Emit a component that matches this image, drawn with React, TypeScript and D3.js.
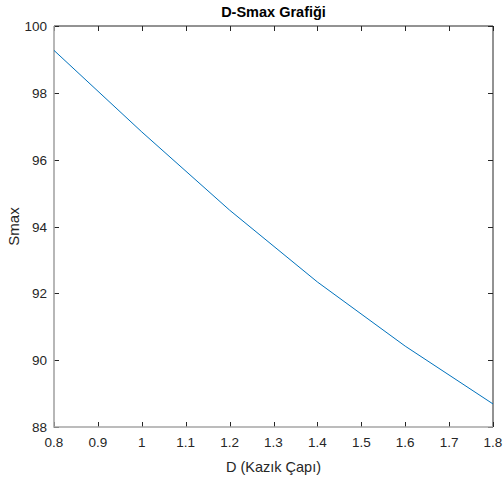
import { useRef, useEffect } from 'react';
import * as d3 from 'd3';

const diameters = [0.8, 1.0, 1.2, 1.4, 1.6, 1.8];
const smaxValues = [99.27, 96.83, 94.49, 92.34, 90.42, 88.69];
const xTicks = [0.8, 0.9, 1.0, 1.1, 1.2, 1.3, 1.4, 1.5, 1.6, 1.7, 1.8];
const yTicks = [88, 90, 92, 94, 96, 98, 100];

function App() {
  const svgRef = useRef<SVGSVGElement>(null);
  const width = 504;
  const height = 482;

  useEffect(() => {
    const margin = { top: 26, right: 11, bottom: 55, left: 54 };
    const font = 'Arial, "Liberation Sans", Helvetica, sans-serif';
    const svg = d3.select(svgRef.current);
    svg.selectAll('*').remove();

    const x = d3.scaleLinear().domain([0.8, 1.8]).range([margin.left, width - margin.right]);
    const y = d3.scaleLinear().domain([88, 100]).range([height - margin.bottom, margin.top]);
    const x0 = margin.left;
    const x1 = width - margin.right;
    const y0 = height - margin.bottom;
    const y1 = margin.top;

    svg.append('rect').attr('width', width).attr('height', height).attr('fill', 'white');

    // top / right box
    svg
      .append('path')
      .attr('d', `M${x0},${y1}H${x1}V${y0}`)
      .attr('fill', 'none')
      .attr('stroke', '#262626')
      .attr('stroke-width', 1);

    // ticks (inward on all four sides)
    const ticks = svg.append('g').attr('stroke', '#262626').attr('stroke-width', 1);
    xTicks.forEach((t) => {
      const px = Math.round(x(t)) + 0.5;
      ticks.append('line').attr('x1', px).attr('x2', px).attr('y1', y0).attr('y2', y0 - 5);
      ticks.append('line').attr('x1', px).attr('x2', px).attr('y1', y1).attr('y2', y1 + 5);
    });
    yTicks.forEach((t) => {
      const py = Math.round(y(t)) + 0.5;
      ticks.append('line').attr('x1', x0).attr('x2', x0 + 5).attr('y1', py).attr('y2', py);
      ticks.append('line').attr('x1', x1).attr('x2', x1 - 5).attr('y1', py).attr('y2', py);
    });

    // left / bottom axis lines (gray)
    svg
      .append('path')
      .attr('d', `M${x0},${y1}V${y0}H${x1}`)
      .attr('fill', 'none')
      .attr('stroke', '#a6a6a6')
      .attr('stroke-width', 1.6);

    // tick labels
    svg
      .append('g')
      .selectAll('text')
      .data(xTicks)
      .join('text')
      .attr('x', (d) => x(d))
      .attr('y', y0 + 20)
      .attr('text-anchor', 'middle')
      .attr('font-family', font)
      .attr('font-size', 13.5)
      .attr('fill', '#262626')
      .text((d) => d3.format('~g')(d));

    svg
      .append('g')
      .selectAll('text')
      .data(yTicks)
      .join('text')
      .attr('x', x0 - 7)
      .attr('y', (d) => y(d) + 5)
      .attr('text-anchor', 'end')
      .attr('font-family', font)
      .attr('font-size', 13.5)
      .attr('fill', '#262626')
      .text((d) => d);

    // line
    const line = d3
      .line<number>()
      .x((_, i) => x(diameters[i]))
      .y((d) => y(d));

    svg
      .append('path')
      .datum(smaxValues)
      .attr('d', line)
      .attr('fill', 'none')
      .attr('stroke', '#0072bd')
      .attr('stroke-width', 1);

    // title and labels
    svg
      .append('text')
      .attr('x', (x0 + x1) / 2)
      .attr('y', 17)
      .attr('text-anchor', 'middle')
      .attr('font-family', font)
      .attr('font-size', 14.5)
      .attr('font-weight', 'bold')
      .attr('fill', 'black')
      .text('D-Smax Grafiği');

    svg
      .append('text')
      .attr('x', (x0 + x1) / 2)
      .attr('y', 472)
      .attr('text-anchor', 'middle')
      .attr('font-family', font)
      .attr('font-size', 14.5)
      .attr('fill', '#262626')
      .text('D (Kazık Çapı)');

    svg
      .append('text')
      .attr('transform', `translate(19,${(y0 + y1) / 2}) rotate(-90)`)
      .attr('text-anchor', 'middle')
      .attr('font-family', font)
      .attr('font-size', 15)
      .attr('fill', '#262626')
      .text('Smax');
  }, []);

  return (
    <svg
      ref={svgRef}
      width={width}
      height={height}
      style={{ position: 'absolute', left: 0, top: 0, display: 'block' }}
    ></svg>
  );
}

export default App;
